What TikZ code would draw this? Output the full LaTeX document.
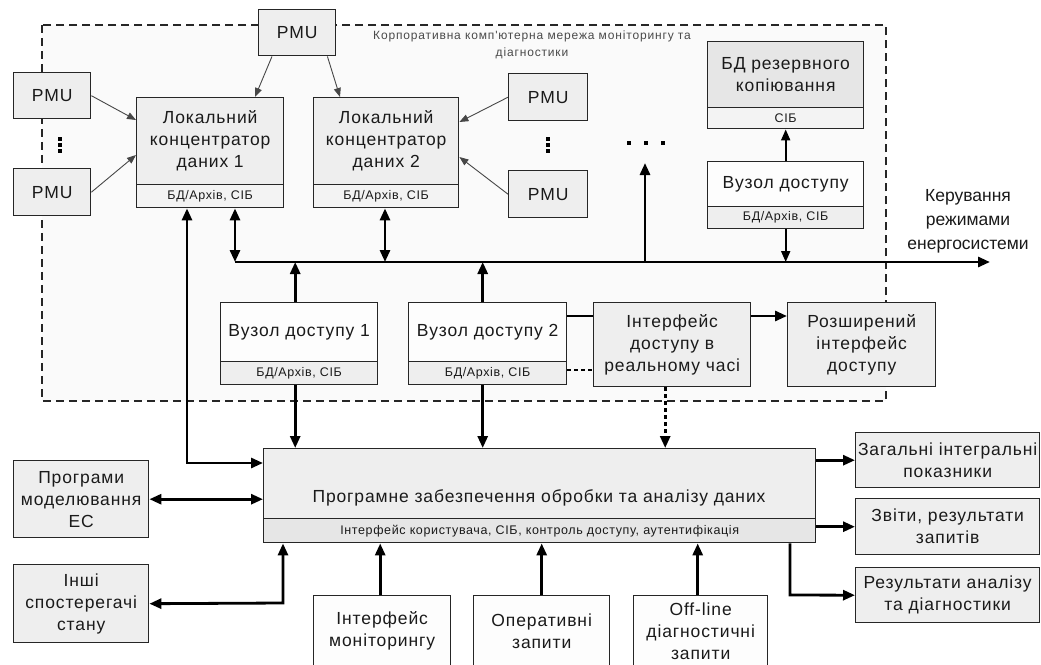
\documentclass[tikz,border=0pt]{standalone}
\usepackage{fontspec}
\setmainfont{Liberation Sans}
\newfontfamily\boxf[LetterSpace=5]{Liberation Sans}
\newfontfamily\lblf[LetterSpace=7]{Liberation Sans}
\usetikzlibrary{arrows.meta,calc}
\definecolor{bord}{HTML}{262626}
\definecolor{txt}{HTML}{1A1A1A}
\definecolor{regbg}{HTML}{FAFAFA}
\definecolor{gA}{HTML}{EEEEEE}
\definecolor{gB}{HTML}{F3F3F3}
\definecolor{gC}{HTML}{E6E6E6}
\definecolor{wh}{HTML}{FDFDFD}
\definecolor{lbl}{HTML}{4A4A4A}
\newcommand{\mfont}{\boxf\fontsize{17.5}{22}\selectfont}
\newcommand{\sfontb}{\boxf\fontsize{12.5}{14}\selectfont}
\newcommand{\lfont}{\lblf\fontsize{12}{17}\selectfont}
\newcommand{\kfont}{\fontsize{17.5}{24}\selectfont}
\begin{document}
\begin{tikzpicture}[x=1pt,y=-1pt,
  bx/.style={draw=bord, line width=1.4pt, inner sep=0pt, align=center, anchor=north west, font=\mfont, text=txt},
  sub/.style={bx, font=\sfontb},
  thin/.style={draw=bord!85, line width=0.9pt, -{Triangle[length=9pt,width=7pt]}},
  conn/.style={draw=black, line width=2.8pt},
  mid/.style={draw=black, line width=1.9pt, -{Triangle[length=11pt,width=9pt]}},
  tip/.style={-{Triangle[length=12pt,width=10pt]}},
  dtip/.style={{Triangle[length=12pt,width=10pt]}-{Triangle[length=12pt,width=10pt]}},
  dotln/.style={dash pattern=on 4pt off 3pt},
  dotsq/.style={fill=black, minimum size=3.5pt, inner sep=0pt}
]
\path[use as bounding box] (0,0) rectangle (1041,664);
\clip (0,0) rectangle (1041,664);
\fill[white] (0,0) rectangle (1041,664);
% region
\draw[fill=regbg, draw=bord, line width=1.1pt, dash pattern=on 8pt off 5pt] (42,25) rectangle (886,401);
\node[font=\lfont, text=lbl, align=center] (lab) at (532,45) {Корпоративна комп'ютерна мережа моніторингу та\\діагностики};

% PMUs
\node[bx, fill=gA, minimum width=77pt, minimum height=46pt] (pmuT) at (258,9) {PMU};
\node[bx, fill=gA, minimum width=77pt, minimum height=46pt] (pmuL1) at (13,72) {PMU};
\node[bx, fill=gA, minimum width=77pt, minimum height=47pt] (pmuL2) at (13,168) {PMU};
\node[bx, fill=gA, minimum width=79pt, minimum height=47pt] (pmuR1) at (508,73) {PMU};
\node[bx, fill=gA, minimum width=79pt, minimum height=47pt] (pmuR2) at (508,170) {PMU};

% concentrators
\node[bx, fill=gA, minimum width=147pt, minimum height=87pt] (lc1) at (136,97) {Локальний\\концентратор\\даних 1};
\node[sub, fill=gB, minimum width=147pt, minimum height=23pt] (lc1s) at (136,184) {БД/Архів, СІБ};
\node[bx, fill=gA, minimum width=145pt, minimum height=87pt] (lc2) at (313,97) {Локальний\\концентратор\\даних 2};
\node[sub, fill=gB, minimum width=145pt, minimum height=23pt] (lc2s) at (313,184) {БД/Архів, СІБ};

% backup
\node[bx, fill=gC, minimum width=156pt, minimum height=66pt] (bdr) at (707,41) {БД резервного\\копіювання};
\node[sub, fill=gB, minimum width=156pt, minimum height=21pt] (bdrs) at (707,107) {СІБ};
\node[bx, fill=wh, minimum width=156pt, minimum height=45pt] (vz) at (707,161) {Вузол доступу};
\node[sub, fill=gA, minimum width=156pt, minimum height=22pt] (vzs) at (707,206) {БД/Архів, СІБ};

% access nodes
\node[bx, fill=wh, minimum width=157pt, minimum height=59pt] (vz1) at (220,302) {Вузол доступу 1};
\node[sub, fill=gA, minimum width=157pt, minimum height=23pt] (vz1s) at (220,361) {БД/Архів, СІБ};
\node[bx, fill=wh, minimum width=158pt, minimum height=59pt] (vz2) at (408,302) {Вузол доступу 2};
\node[sub, fill=gA, minimum width=158pt, minimum height=23pt] (vz2s) at (408,361) {БД/Архів, СІБ};
\node[bx, fill=gA, minimum width=157pt, minimum height=84pt] (ird) at (593,302) {Інтерфейс\\доступу в\\реальному часі};
\node[bx, fill=gA, minimum width=148pt, minimum height=84pt] (rozsh) at (787,302) {Розширений\\інтерфейс\\доступу};

% main
\node[bx, fill=gA, minimum width=552pt, minimum height=70pt] (main) at (263,448) {};
\node[font=\mfont, text=txt] (maint) at (539,498) {Програмне забезпечення обробки та аналізу даних};
\node[sub, fill=gC, minimum width=552pt, minimum height=24pt] (mains) at (263,518) {Інтерфейс користувача, СІБ, контроль доступу, аутентифікація};

% left
\node[bx, fill=gA, minimum width=135pt, minimum height=77pt] (prog) at (13,460) {Програми\\моделювання\\ЕС};
\node[bx, fill=gA, minimum width=135pt, minimum height=78pt] (inshi) at (13,564) {Інші\\спостерегачі\\стану};

% bottom
\node[bx, fill=wh, minimum width=137pt, minimum height=71pt] (imon) at (313,595) {Інтерфейс\\моніторингу};
\node[bx, fill=wh, minimum width=136pt, minimum height=71pt] (oper) at (473,595) {Оперативні\\запити};
\node[bx, fill=wh, minimum width=134pt, minimum height=71pt] (offl) at (633,595) {Off-line\\діагностичні\\запити};

% right
\node[bx, fill=gA, minimum width=184pt, minimum height=55pt] (zag) at (855,432) {Загальні інтегральні\\показники};
\node[bx, fill=gA, minimum width=184pt, minimum height=56pt] (zvit) at (855,498) {Звіти, результати\\запитів};
\node[bx, fill=gA, minimum width=184pt, minimum height=55pt] (rez) at (855,567) {Результати аналізу\\та діагностики};

\node[font=\kfont, text=txt, align=center] (ker) at (968,221) {Керування\\режимами\\енергосистеми};

% dots
\node[dotsq] (d1) at (60,139) {};
\node[dotsq] (d2) at (60,145) {};
\node[dotsq] (d3) at (60,151) {};
\node[dotsq] (d4) at (548,139) {};
\node[dotsq] (d5) at (548,145) {};
\node[dotsq] (d6) at (548,151) {};
\node[dotsq, minimum size=4.5pt] (h1) at (629,143) {};
\node[dotsq, minimum size=4.5pt] (h2) at (646,143) {};
\node[dotsq, minimum size=4.5pt] (h3) at (663,143) {};

% coordinates
\coordinate (busL) at (235,262);
\coordinate (busR) at (990,262);
\coordinate (b2) at (385,262);
\coordinate (b3) at (645,262);
\coordinate (b3t) at (645,163);
\coordinate (c1) at (187,463);
\coordinate (c2) at (283,603);
\coordinate (c3) at (790,595);

% thin PMU arrows
\draw[thin] (pmuL1.east) -- ([yshift=-23pt]lc1.north west);
\draw[thin] (pmuL2.east) -- ([yshift=-58pt]lc1.north west);
\draw[thin] ([xshift=14pt]pmuT.south west) -- ([xshift=119pt]lc1.north west);
\draw[thin] ([xshift=-9pt]pmuT.south east) -- ([xshift=27pt]lc2.north west);
\draw[thin] (pmuR1.west) -- ([yshift=-25pt]lc2.north east);
\draw[thin] (pmuR2.west) -- ([yshift=-60pt]lc2.north east);

% bus
\draw[conn, tip] (busL) -- (busR);
\draw[conn, dtip] (lc1s.south -| busL) -- (busL);
\draw[conn, dtip] (lc2s.south -| b2) -- (b2);
\draw[conn, tip] (b3) -- (b3t);
\draw[mid] (vzs.south) -- (vzs.south |- busL);
\draw[mid] (vz.north) -- (bdrs.south);
\draw[conn, tip] ([xshift=-4pt]vz1.north) -- ([xshift=-4pt]vz1.north |- busL);
\draw[conn, tip] ([xshift=-5pt]vz2.north) -- ([xshift=-5pt]vz2.north |- busL);

% access to main
\draw[conn, tip] ([xshift=-4pt]vz1s.south) -- ([xshift=-4pt]vz1s.south |- main.north);
\draw[conn, tip] ([xshift=-5pt]vz2s.south) -- ([xshift=-5pt]vz2s.south |- main.north);
\draw[conn] ([yshift=-14pt]vz2.north east) -- ([yshift=-14pt]ird.north west);
\draw[conn, dotln] ([yshift=-9pt]vz2s.north east) -- ([yshift=-68pt]ird.north west);
\draw[conn, tip] ([yshift=-14pt]ird.north east) -- ([yshift=-14pt]rozsh.north west);
\draw[conn, dotln, tip] ([xshift=-7pt]ird.south) -- ([xshift=-7pt]ird.south |- main.north);

% left links
\draw[conn, dtip] (lc1s.south -| c1) -- (c1) -- (main.west |- c1);
\draw[conn, dtip] (prog.east) -- (prog.east -| main.west);
\draw[conn, dtip] (inshi.east) -- (c2) -- (mains.south -| c2);

% bottom inputs
\draw[conn, tip] ([xshift=-2pt]imon.north) -- ([xshift=-2pt]imon.north |- mains.south);
\draw[conn, tip] (oper.north) -- (oper.north |- mains.south);
\draw[conn, tip] ([xshift=-3pt]offl.north) -- ([xshift=-3pt]offl.north |- mains.south);

% outputs
\draw[conn, tip] (zag.west -| main.east) -- (zag.west);
\draw[conn, tip] (zvit.west -| main.east) -- (zvit.west);
\draw[conn, tip] (mains.south -| c3) -- (c3) -- (rez.west);
\end{tikzpicture}
\end{document}
